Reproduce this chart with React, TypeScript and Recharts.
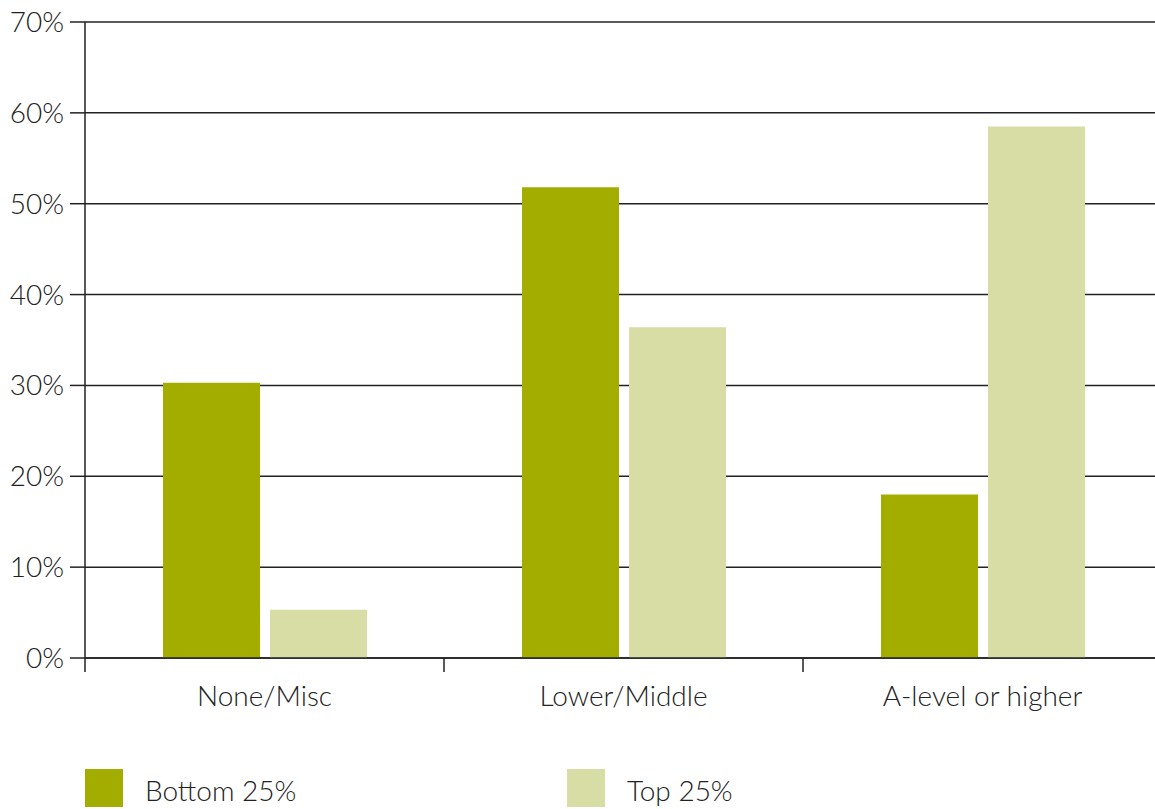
import { Bar, BarChart, CartesianGrid, Legend, XAxis, YAxis } from "recharts";

const categories = ["None/Misc", "Lower/Middle", "A-level or higher"];
const bottom25 = [30.3, 51.8, 18.0];
const top25 = [5.3, 36.4, 58.5];
const yTicks = [0, 10, 20, 30, 40, 50, 60, 70];

const DARK = "#A2AD00";
const LIGHT = "#D8DDA6";
const INK = "#222";
const FONT = "Lato, 'Open Sans', sans-serif";
const X_TICK_GAP = 28;

const data = categories.map((c, i) => ({
  category: c,
  bottom: bottom25[i],
  top: top25[i],
}));

const legendItems = [
  { label: "Bottom 25%", color: DARK, x: 85 },
  { label: "Top 25%", color: LIGHT, x: 567 },
];

// category label plus tick marks on the band edges
function CategoryTick(props: any) {
  const { x, y, payload, index, visibleTicksCount } = props;
  const half = payload?.offset ?? 0;
  const top = y - X_TICK_GAP;
  const edges = [x - half];
  if (index === visibleTicksCount - 1) edges.push(x + half);
  return (
    <g>
      {edges.map((ex) => (
        <line key={ex} x1={ex} x2={ex} y1={top} y2={top + 14} stroke={INK} strokeWidth={1.5} />
      ))}
      <text
        x={x}
        y={y}
        dy="0.71em"
        textAnchor="middle"
        fontSize={28}
        fontFamily={FONT}
        fontWeight={300}
        fill={INK}
      >
        {payload.value}
      </text>
    </g>
  );
}

function ChartLegend() {
  return (
    <div style={{ position: "relative", height: 40, fontFamily: FONT }}>
      {legendItems.map((it) => (
        <div
          key={it.label}
          style={{
            position: "absolute",
            left: it.x,
            top: -2,
            display: "flex",
            alignItems: "center",
          }}
        >
          <span
            style={{
              display: "inline-block",
              width: 38,
              height: 38,
              background: it.color,
            }}
          />
          <span
            style={{
              marginLeft: 22,
              fontSize: 28,
              fontWeight: 300,
              color: INK,
              lineHeight: "38px",
              paddingTop: 4,
            }}
          >
            {it.label}
          </span>
        </div>
      ))}
    </div>
  );
}

export default function App() {
  return (
    <div
      style={{
        position: "absolute",
        left: 0,
        top: 0,
        width: 1155,
        height: 809,
        overflow: "hidden",
        background: "#fff",
      }}
    >
      <BarChart
        width={1170}
        height={809}
        data={data}
        margin={{ top: 22, right: 8, bottom: 0, left: 0 }}
        barCategoryGap={78}
        barGap={10}
      >
        <CartesianGrid vertical={false} stroke={INK} strokeWidth={1.5} />
        <XAxis
          dataKey="category"
          height={111}
          interval={0}
          axisLine={{ stroke: INK, strokeWidth: 1.5 }}
          tickLine={false}
          tickSize={0}
          tickMargin={X_TICK_GAP}
          tick={<CategoryTick />}
        />
        <YAxis
          domain={[0, 70]}
          ticks={yTicks}
          width={85}
          interval={0}
          axisLine={{ stroke: INK, strokeWidth: 1.5 }}
          tickLine={{ stroke: INK, strokeWidth: 1.5 }}
          tickSize={15}
          tickMargin={6}
          tickFormatter={(v) => `${v}%`}
          tick={{ fontSize: 28, fill: INK, fontFamily: FONT, fontWeight: 300 }}
        />
        <Legend verticalAlign="bottom" height={40} content={() => <ChartLegend />} />
        <Bar dataKey="bottom" name="Bottom 25%" fill={DARK} isAnimationActive={false} />
        <Bar dataKey="top" name="Top 25%" fill={LIGHT} isAnimationActive={false} />
      </BarChart>
    </div>
  );
}
